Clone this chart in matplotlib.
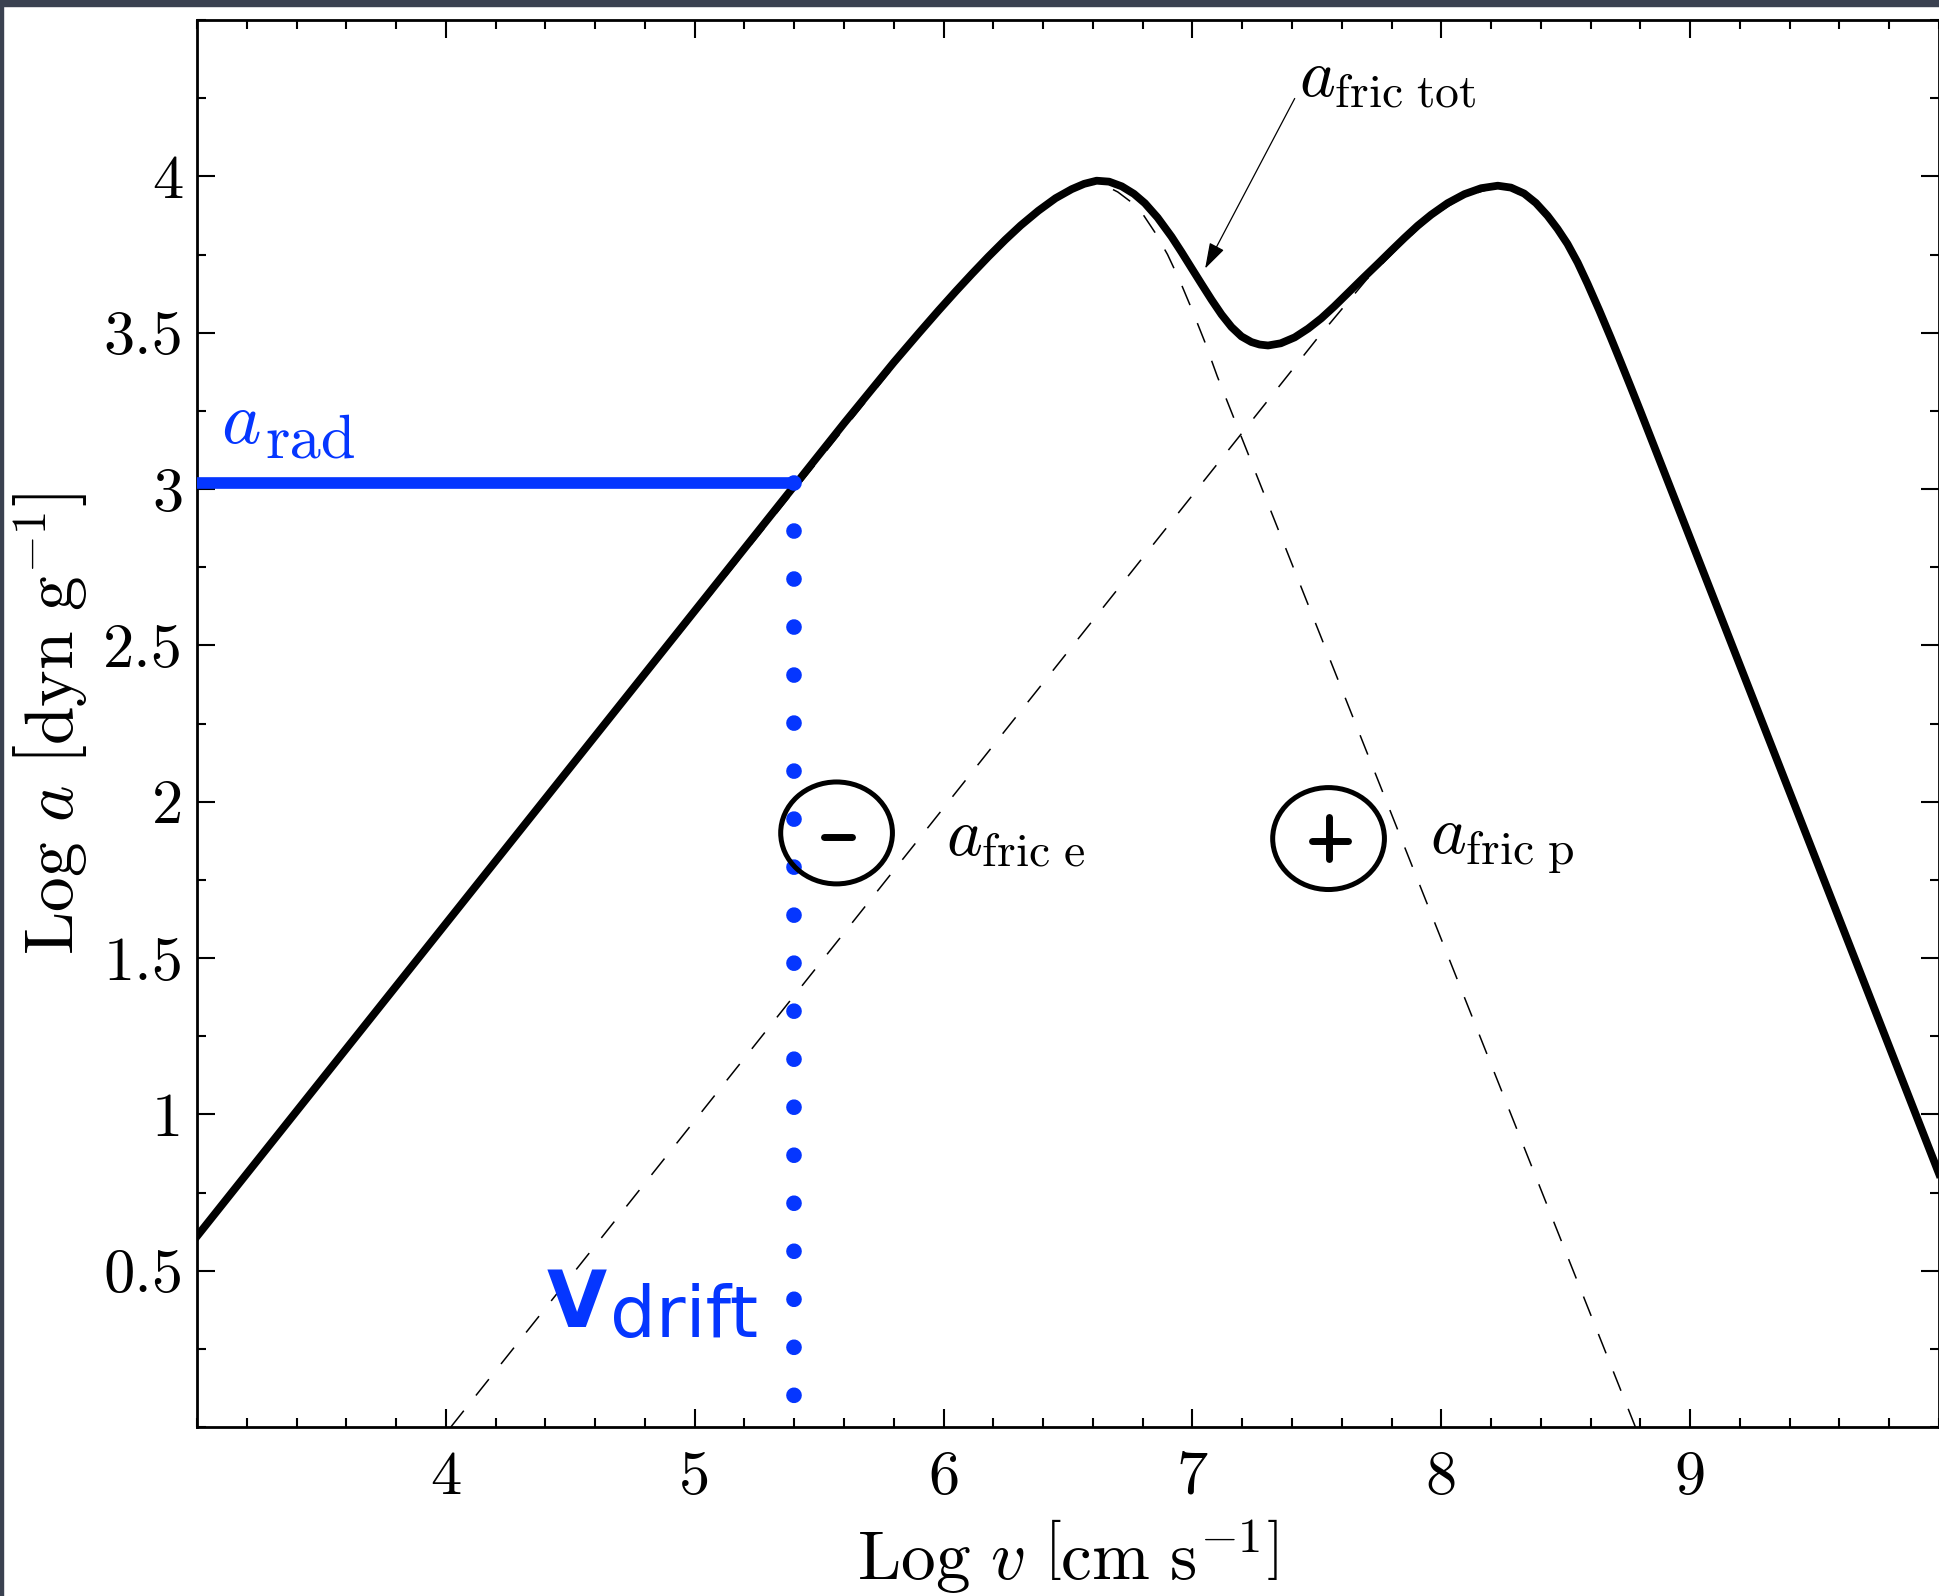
import matplotlib
matplotlib.use('Agg')
import matplotlib.pyplot as plt
from matplotlib.patches import Ellipse, Rectangle
from matplotlib.ticker import MultipleLocator, FixedLocator, FuncFormatter

# friction acceleration curves, log v [cm s^-1] vs log a [dyn g^-1]
log_v_tot = [3.0, 4.0, 5.0, 5.4, 5.6, 5.8, 5.9, 5.98, 6.05, 6.114, 6.18, 6.248,
             6.31, 6.381, 6.45, 6.515, 6.565, 6.615, 6.665, 6.716, 6.765, 6.809,
             6.86, 6.916, 6.956, 6.996, 7.037, 7.077, 7.117, 7.157, 7.197, 7.237,
             7.27, 7.304, 7.355, 7.411, 7.465, 7.518, 7.57, 7.625, 7.685, 7.745,
             7.8, 7.852, 7.905, 7.959, 8.025, 8.093, 8.16, 8.227, 8.28, 8.333,
             8.38, 8.427, 8.467, 8.507, 8.548, 8.588, 8.635, 8.681, 8.72, 8.761,
             8.8, 9.4, 10.0]
log_a_tot = [0.61, 1.61, 2.61, 3.01, 3.21, 3.405, 3.498, 3.571, 3.633, 3.688,
             3.743, 3.797, 3.843, 3.89, 3.93, 3.959, 3.976, 3.986, 3.983, 3.968,
             3.944, 3.914, 3.868, 3.807, 3.758, 3.707, 3.655, 3.605, 3.558, 3.518,
             3.488, 3.47, 3.462, 3.459, 3.466, 3.485, 3.513, 3.546, 3.584, 3.627,
             3.674, 3.72, 3.763, 3.803, 3.842, 3.877, 3.914, 3.943, 3.962, 3.970,
             3.964, 3.945, 3.915, 3.874, 3.832, 3.784, 3.724, 3.656, 3.571, 3.484,
             3.408, 3.327, 3.249, 2.03, 0.81]

# electrons
log_v_e = [4.02, 7.0, 7.5, 7.7, 7.85, 7.96, 8.09, 8.22, 8.33, 8.43, 8.51, 8.59,
           8.68, 8.76, 10.0]
log_a_e = [0.0, 2.98, 3.48, 3.67, 3.79, 3.87, 3.935, 3.965, 3.94, 3.865, 3.78,
           3.65, 3.47, 3.31, 0.80]

# protons
log_v_p = [3.0, 6.0, 6.2, 6.3, 6.4, 6.5, 6.55, 6.6, 6.65, 6.7, 6.75, 6.8, 6.85,
           6.9, 6.95, 7.0, 7.05, 7.1, 8.78]
log_a_p = [0.61, 3.59, 3.755, 3.835, 3.90, 3.95, 3.966, 3.975, 3.97, 3.95, 3.92,
           3.88, 3.82, 3.75, 3.665, 3.57, 3.47, 3.36, 0.0]

log_a_rad = 3.02
log_v_drift = 5.4

blue = '#0536ff'

plt.rcParams['font.family'] = 'cmr10'
plt.rcParams['mathtext.fontset'] = 'cm'
plt.rcParams['axes.formatter.use_mathtext'] = True

fig = plt.figure(figsize=(19.4, 15.96), dpi=100)
ax = fig.add_axes([197 / 1940, 1 - 1427 / 1596, 1742 / 1940, 1407 / 1596])

# dashed components (thin, absolute dash lengths in points)
dash_lw = 1.1
ax.plot(log_v_e, log_a_e, color='k', lw=dash_lw, ls=(0, (15 / dash_lw, 14 / dash_lw)))
ax.plot(log_v_p, log_a_p, color='k', lw=dash_lw, ls=(0, (15 / dash_lw, 14 / dash_lw)))

# total
ax.plot(log_v_tot, log_a_tot, color='k', lw=5.6, solid_joinstyle='round', zorder=3)

# radiative acceleration and drift velocity
ax.plot([3.0, log_v_drift], [log_a_rad, log_a_rad], color=blue, lw=8.4,
        solid_capstyle='round', zorder=4)
dot_lw = 11.3
ax.plot([log_v_drift, log_v_drift], [log_a_rad, 0.0], color=blue, lw=dot_lw,
        ls=(0, (0.001, 34.56 / dot_lw)), dash_capstyle='round', zorder=4)

# charge symbols
ax.add_patch(Ellipse((5.57, 1.90), 0.449, 0.326, fill=False, lw=3.6, ec='k', zorder=5))
ax.plot([5.519, 5.631], [1.888, 1.888], color='k', lw=5, solid_capstyle='round', zorder=5)
ax.add_patch(Ellipse((7.547, 1.882), 0.449, 0.326, fill=False, lw=3.6, ec='k', zorder=5))
ax.plot([7.481, 7.625], [1.874, 1.874], color='k', lw=5, solid_capstyle='round', zorder=5)
ax.plot([7.550, 7.550], [1.818, 1.950], color='k', lw=5, solid_capstyle='round', zorder=5)

# labels
ax.text(6.008, 1.829, r'$a_{\rm fric\ e}$', fontsize=49, ha='left', va='baseline')
ax.text(7.953, 1.835, r'$a_{\rm fric\ p}$', fontsize=49, ha='left', va='baseline')
ax.text(7.428, 4.256, r'$a_{\rm fric\ tot}$', fontsize=49, ha='left', va='baseline')
ax.text(3.098, 3.146, r'$a$', fontsize=54, ha='left', va='baseline', color=blue)
ax.text(3.273, 3.102, 'rad', fontsize=45, ha='left', va='baseline', color=blue)
ax.text(4.404, 0.320, 'V', fontsize=56, fontweight='bold', family='DejaVu Sans',
        ha='left', va='baseline', color=blue)
ax.text(4.66, 0.288, 'drift', fontsize=52, family='DejaVu Sans',
        ha='left', va='baseline', color=blue)

ax.annotate('', xy=(7.051, 3.705), xytext=(7.411, 4.249),
            arrowprops=dict(arrowstyle='-|>,head_length=0.8,head_width=0.25',
                            color='k', lw=0.9, mutation_scale=20, shrinkA=0, shrinkB=0))

ax.set_xlim(3, 10)
ax.set_ylim(0, 4.5)
ax.xaxis.set_major_locator(FixedLocator([4, 5, 6, 7, 8, 9]))
ax.xaxis.set_minor_locator(MultipleLocator(0.2))
ax.yaxis.set_major_locator(FixedLocator([0.5, 1, 1.5, 2, 2.5, 3, 3.5, 4]))
ax.yaxis.set_minor_locator(MultipleLocator(0.25))
ax.yaxis.set_major_formatter(FuncFormatter(lambda v, p: ('%g' % v)))
ax.xaxis.set_major_formatter(FuncFormatter(lambda v, p: ('%g' % v)))

ax.tick_params(which='both', direction='in', top=True, right=True, width=1.5)
ax.tick_params(which='major', length=13, labelsize=45)
ax.tick_params(which='minor', length=6.5)
ax.tick_params(axis='x', which='major', pad=17)
ax.tick_params(axis='y', which='major', pad=10)
for s in ax.spines.values():
    s.set_linewidth(2)

ax.set_xlabel(r'$\mathrm{Log}\ v\ \left[\mathrm{cm\ s}^{-1}\right]$', fontsize=50)
ax.set_ylabel(r'$\mathrm{Log}\ a\ \left[\mathrm{dyn\ g}^{-1}\right]$', fontsize=50)
ax.xaxis.set_label_coords(0.5, -0.064)
ax.yaxis.set_label_coords(-0.062, 0.5)

# dark frame strips along the top and left edges
fig.patches.append(Rectangle((0, 1 - 6 / 1596), 1, 6 / 1596, transform=fig.transFigure,
                             color='#3a4150', zorder=10))
fig.patches.append(Rectangle((0, 0), 3 / 1940, 1, transform=fig.transFigure,
                             color='#3a4150', zorder=10))

fig.savefig('out.png', dpi=100)
